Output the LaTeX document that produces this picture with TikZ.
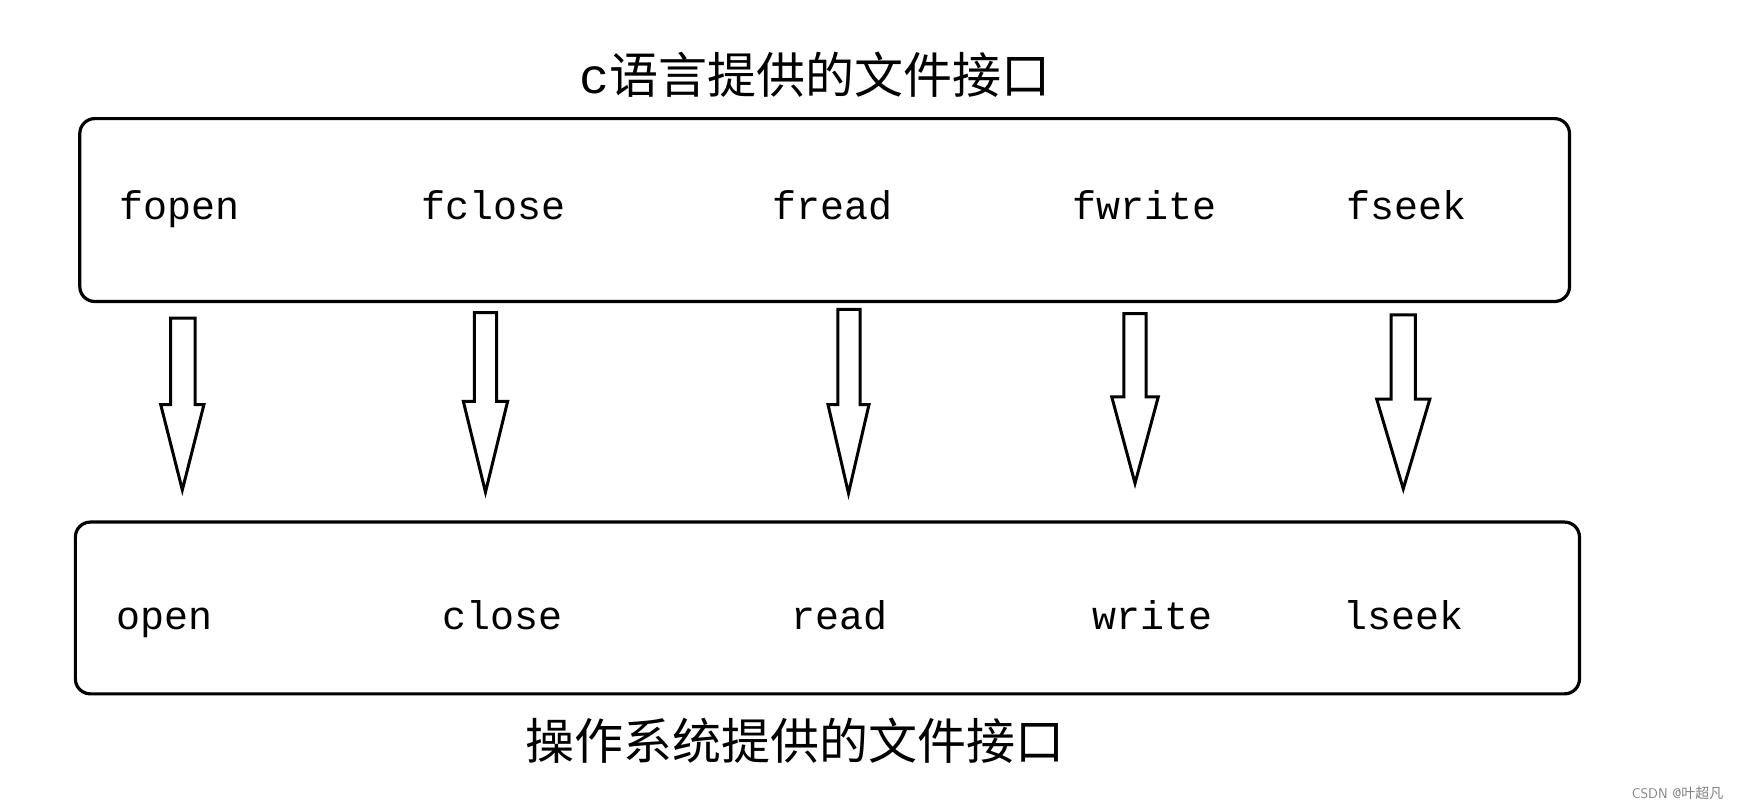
\documentclass[tikz,border=0pt]{standalone}
\usepackage{fontspec}
\setmonofont{Liberation Mono}
\newfontfamily\cjk{Noto Sans CJK SC}
\begin{document}
\begin{tikzpicture}[x=1.1084pt,y=-1.1084pt,
  box/.style={draw,line width=3.2pt,rounded corners=15pt},
  lab/.style={font=\fontsize{40}{40}\selectfont\ttfamily,anchor=base west,inner sep=0pt},
  ttl/.style={font=\fontsize{49}{49}\selectfont\cjk,inner sep=0pt},
  arr/.style={draw,line width=3pt,fill=white}]
\useasboundingbox (0,0) rectangle (1568,730);
\draw[box] (72,107) rectangle (1416,272);
\draw[box] (68,471) rectangle (1425,626);
\node[ttl] (t1) at (735,67) {{\ttfamily\fontsize{50}{50}\selectfont c}语言提供的文件接口};
\node[ttl] (t2) at (717,668) {操作系统提供的文件接口};
\foreach \x/\t in {108/fopen,380/fclose,697/fread,967/fwrite,1215/fseek}
  \node[lab] at (\x,198) {\t};
\foreach \x/\t in {105/open,399/close,714/read,985/write,1212/lseek}
  \node[lab] at (\x,568) {\t};
\foreach \a/\b/\c/\d/\ya/\yb/\tip in {
  154/176/145/184/287/365/442,
  428/448/418/458/282/362/444,
  756/776/747/784/279/365/445,
  1014/1034/1003/1045/283/358/436,
  1255/1277/1242/1290/284/360/441}
  \draw[arr] (\a,\ya) -- (\b,\ya) -- (\b,\yb) -- (\d,\yb) -- ({(\c+\d)/2},\tip) -- (\c,\yb) -- (\a,\yb) -- cycle;
\node[font=\fontsize{14}{14}\selectfont\sffamily,text=gray,anchor=east,inner sep=0pt] (wm) at (1555,716) {CSDN @{\cjk 叶超凡}};
\end{tikzpicture}
\end{document}
